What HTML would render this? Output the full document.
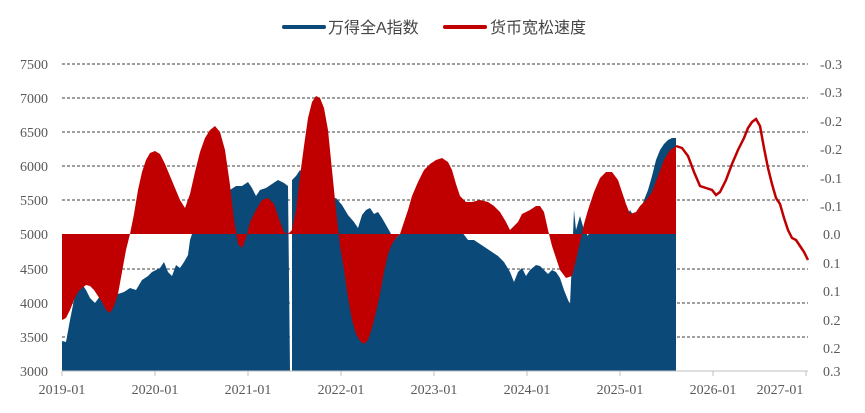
<!DOCTYPE html>
<html><head><meta charset="utf-8">
<style>
body{margin:0;background:#fff;}
svg{display:block;font-family:"Liberation Serif","Noto Serif CJK SC",serif;}
.t{font-size:14px;fill:#595959;}
.lg{font-size:16px;fill:#444;font-family:"Liberation Sans","Noto Sans CJK SC",sans-serif;}
</style></head><body>
<svg width="865" height="413" viewBox="0 0 865 413">
<rect width="865" height="413" fill="#fff"/>
<!-- legend -->
<line x1="284" y1="27" x2="324" y2="27" stroke="#0b4a78" stroke-width="4" stroke-linecap="round"/>
<text class="lg" x="328" y="33">万得全A指数</text>
<line x1="445" y1="27" x2="485" y2="27" stroke="#c00000" stroke-width="4" stroke-linecap="round"/>
<text class="lg" x="490" y="33">货币宽松速度</text>
<!-- gridlines -->
<g stroke="#000" stroke-width="0.8" stroke-dasharray="3,2">
<line x1="62" x2="808" y1="64" y2="64"/><line x1="62" x2="808" y1="98" y2="98"/>
<line x1="62" x2="808" y1="132" y2="132"/><line x1="62" x2="808" y1="166" y2="166"/>
<line x1="62" x2="808" y1="200" y2="200"/><line x1="62" x2="808" y1="303" y2="303"/>
<line x1="62" x2="808" y1="269" y2="269"/><line x1="62" x2="808" y1="337" y2="337"/>
</g>
<!-- blue area -->
<polygon fill="#0b4a78" points="62,371 62,341 66,342 70,320 74,300 78,288 82,284 86,290 90,298 95,303 100,296 105,292 110,298 114,300 118,294 124,292 130,288 136,290 142,280 148,276 152,272 156,270 160,268 164,262 168,272 172,276 176,265 180,268 184,262 188,255 190,240 192,234 196,226 200,215 206,206 212,198 218,202 224,196 230,190 236,186 242,186 248,182 252,188 256,196 260,190 266,188 272,184 278,180 284,183 288,186 290,371 292,371 292,180 296,176 300,170 306,178 312,185 318,188 324,196 330,200 336,198 342,205 348,215 354,222 358,228 362,215 366,210 370,208 374,214 378,212 382,218 386,225 390,232 394,240 398,236 402,232 408,230 414,224 420,220 426,216 432,210 438,208 444,215 450,222 456,228 462,232 468,240 474,240 480,244 486,248 492,252 498,256 504,262 510,272 514,282 518,272 522,268 526,276 530,270 536,265 540,266 544,270 548,274 552,270 556,272 560,278 564,290 568,300 570,304 572,260 574,210 576,230 580,216 584,230 588,236 592,220 596,226 600,232 606,222 612,228 618,214 624,222 630,210 636,220 640,212 644,200 648,190 652,176 656,160 660,150 664,144 668,140 672,138 676,138 676,371"/>
<!-- red area -->
<polygon fill="#c00000" points="62,234 62,320 66,318 70,310 74,300 78,292 82,288 86,285 90,286 94,290 98,296 102,302 106,310 110,313 114,306 118,294 122,272 126,250 130,234 134,214 138,190 142,172 146,160 150,153 155,151 160,154 165,164 170,176 175,188 180,200 185,208 190,194 195,172 200,152 205,138 210,130 215,126 220,132 225,150 230,185 234,220 238,244 242,248 246,238 250,222 256,210 262,200 268,198 274,204 280,222 284,232 288,234 292,230 296,210 300,176 304,146 308,118 312,102 316,96 320,98 324,108 328,130 332,170 336,210 340,246 344,270 348,298 352,320 356,334 360,341 364,344 368,340 372,328 376,312 380,294 384,272 388,254 392,244 396,238 400,234 404,222 408,210 412,196 418,182 424,170 430,164 436,160 442,158 448,162 452,170 456,184 460,196 466,202 472,202 480,200 488,202 494,206 500,212 506,222 510,230 514,226 518,222 522,214 526,212 530,210 536,206 540,206 544,212 548,230 552,246 556,258 560,270 566,278 572,276 576,260 580,242 584,224 588,210 594,192 600,178 606,172 612,172 618,180 622,192 626,204 630,214 636,212 640,206 646,200 652,192 658,176 664,160 670,150 676,146 676,234"/>
<!-- red continuing line -->
<polyline fill="none" stroke="#c00000" stroke-width="2.5" points="676,146 682,148 688,156 694,172 700,186 706,188 712,190 716,195 720,192 726,180 732,164 738,150 744,138 748,128 752,122 756,119 760,126 764,148 768,168 772,184 776,198 780,204 784,218 788,230 792,238 796,240 800,246 804,252 808,260"/>
<!-- axis -->
<line x1="62" x2="808" y1="371" y2="371" stroke="#bfbfbf" stroke-width="1"/>
<g stroke="#bfbfbf"><line x1="62" x2="62" y1="371" y2="376"/><line x1="155" x2="155" y1="371" y2="376"/><line x1="248" x2="248" y1="371" y2="376"/><line x1="341" x2="341" y1="371" y2="376"/><line x1="434" x2="434" y1="371" y2="376"/><line x1="527" x2="527" y1="371" y2="376"/><line x1="620" x2="620" y1="371" y2="376"/><line x1="713" x2="713" y1="371" y2="376"/><line x1="806" x2="806" y1="371" y2="376"/></g>
<!-- left labels -->
<g class="t" text-anchor="end">
<text x="48" y="69">7500</text><text x="48" y="103">7000</text><text x="48" y="137">6500</text>
<text x="48" y="171">6000</text><text x="48" y="205">5500</text><text x="48" y="239">5000</text>
<text x="48" y="274">4500</text><text x="48" y="308">4000</text><text x="48" y="342">3500</text><text x="48" y="376">3000</text>
</g>
<!-- right labels -->
<g class="t">
<text x="820" y="69">-0.3</text><text x="820" y="97">-0.3</text><text x="820" y="126">-0.2</text>
<text x="820" y="154">-0.2</text><text x="820" y="183">-0.1</text><text x="820" y="211">-0.1</text>
<text x="823" y="239">0.0</text><text x="823" y="268">0.1</text><text x="823" y="296">0.1</text>
<text x="823" y="325">0.2</text><text x="823" y="353">0.2</text><text x="823" y="376">0.3</text>
</g>
<!-- x labels -->
<g class="t" text-anchor="middle">
<text x="62" y="394">2019-01</text><text x="155" y="394">2020-01</text><text x="248" y="394">2021-01</text>
<text x="341" y="394">2022-01</text><text x="434" y="394">2023-01</text><text x="527" y="394">2024-01</text>
<text x="620" y="394">2025-01</text><text x="713" y="394">2026-01</text><text x="780" y="394">2027-01</text>
</g>
</svg>
</body></html>
